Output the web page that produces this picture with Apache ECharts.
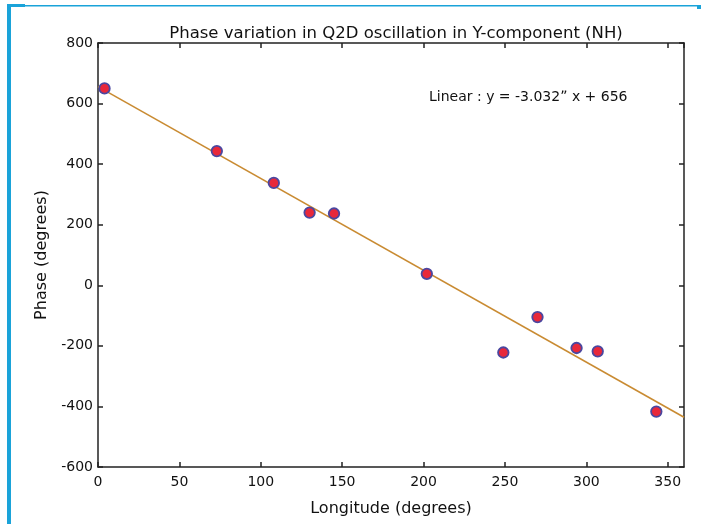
<!DOCTYPE html>
<html>
<head>
<meta charset="utf-8">
<script src="https://cdn.jsdelivr.net/npm/echarts@6/dist/echarts.min.js"></script>
<style>
html,body{margin:0;padding:0;background:#fff;}
#c{width:701px;height:524px;}
</style>
</head>
<body>
<div id="c"></div>
<script>
const longitudes = [4, 73, 108, 130, 145, 202, 249, 270, 294, 307, 343];
const phases = [650, 443, 338, 240, 237, 38, -222, -105, -207, -218, -417];
const fitSlope = -3.032;
const fitIntercept = 656;
const fitX = [0, 360];
const xTicks = [0, 50, 100, 150, 200, 250, 300, 350];
const yTicks = [-600, -400, -200, 0, 200, 400, 600, 800];
const titleText = 'Phase variation in Q2D oscillation in Y-component (NH)';
const fitLabel = 'Linear : y = -3.032\u02ee x + 656';

const chart = echarts.init(document.getElementById('c'), null, {renderer: 'canvas'});
const font = 'DejaVu Sans, Liberation Sans, Arial, sans-serif';
const axisLineStyle = {color: '#222', width: 1.5};
const tickStyle = {show: true, inside: true, length: 5, lineStyle: {color: '#222', width: 1.5}};

chart.setOption({
  animation: false,
  backgroundColor: '#fff',
  textStyle: {fontFamily: font},
  title: {
    text: titleText, left: 391, top: 20, textAlign: 'center',
    textStyle: {fontFamily: font, fontSize: 16.5, fontWeight: 'normal', color: '#111'}
  },
  grid: {left: 98, right: 17, top: 43, bottom: 57, containLabel: false},
  xAxis: [{
    type: 'value', min: 0, max: 360, interval: 50,
    name: 'Longitude (degrees)', nameLocation: 'middle', nameGap: 34,
    nameTextStyle: {fontFamily: font, fontSize: 16, color: '#111'},
    axisLine: {show: true, onZero: false, lineStyle: axisLineStyle},
    axisTick: tickStyle,
    axisLabel: {fontFamily: font, fontSize: 14, color: '#111', margin: 8, showMaxLabel: false,
      formatter: v => xTicks.includes(v) ? String(v) : ''},
    splitLine: {show: false}
  }, {
    type: 'value', min: 0, max: 360, interval: 50, position: 'top',
    axisLine: {show: true, onZero: false, lineStyle: axisLineStyle},
    axisTick: tickStyle, axisLabel: {show: false}, splitLine: {show: false}
  }],
  yAxis: [{
    type: 'value', min: -600, max: 800, interval: 200,
    name: 'Phase (degrees)', nameLocation: 'middle', nameGap: 45, nameRotate: 90,
    nameTextStyle: {fontFamily: font, fontSize: 16, color: '#111'},
    axisLine: {show: true, onZero: false, lineStyle: axisLineStyle},
    axisTick: tickStyle,
    axisLabel: {fontFamily: font, fontSize: 14, color: '#111', margin: 5,
      formatter: v => yTicks.includes(v) ? String(v) : ''},
    splitLine: {show: false}
  }, {
    type: 'value', min: -600, max: 800, interval: 200, position: 'right',
    axisLine: {show: true, onZero: false, lineStyle: axisLineStyle},
    axisTick: tickStyle, axisLabel: {show: false}, splitLine: {show: false}
  }],
  series: [{
    type: 'line',
    data: fitX.map(x => [x, fitSlope * x + fitIntercept]),
    showSymbol: false, symbol: 'none',
    lineStyle: {color: '#c98b32', width: 1.6},
    z: 2
  }, {
    type: 'scatter',
    data: longitudes.map((x, i) => [x, phases[i]]),
    symbol: 'circle', symbolSize: 10.5,
    itemStyle: {color: '#e8283a', borderColor: '#4a47a0', borderWidth: 1.8, opacity: 1},
    z: 3
  }],
  graphic: [
    {type: 'text', left: 429, top: 90,
      style: {text: fitLabel, font: '14px ' + font, fill: '#111'}},
    {type: 'rect', shape: {x: 7, y: 4, width: 4, height: 520}, style: {fill: '#1aa3d9'}},
    {type: 'rect', shape: {x: 7, y: 4, width: 18, height: 3}, style: {fill: '#1aa3d9'}},
    {type: 'rect', shape: {x: 25, y: 5, width: 672, height: 1.5}, style: {fill: '#1aa3d9'}},
    {type: 'rect', shape: {x: 697, y: 5, width: 4, height: 4}, style: {fill: '#1aa3d9'}}
  ]
});
</script>
</body>
</html>
